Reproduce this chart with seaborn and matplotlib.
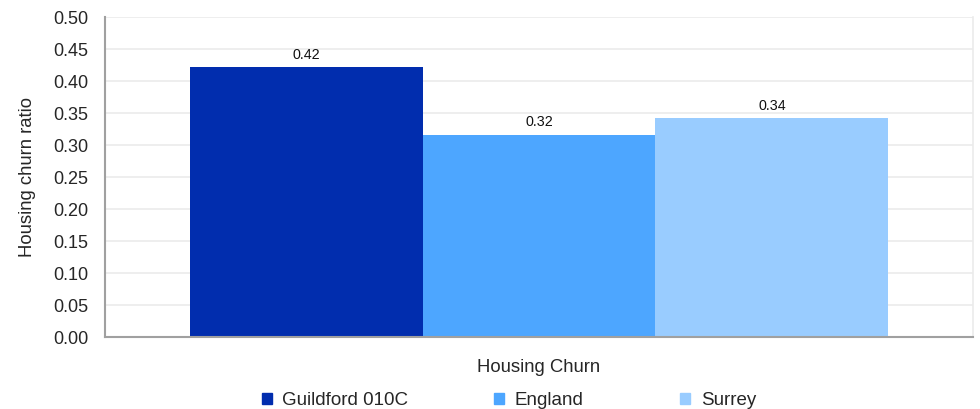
import matplotlib
matplotlib.use("Agg")
import matplotlib.pyplot as plt
import seaborn as sns
import pandas as pd

# Housing churn ratio by area
category = ["Housing Churn"]
areas = ["Guildford 010C", "England", "Surrey"]
churn_ratio = [0.422, 0.316, 0.342]
palette = ["#012DAE", "#4DA6FF", "#99CCFF"]
y_ticks = [0.00, 0.05, 0.10, 0.15, 0.20, 0.25, 0.30, 0.35, 0.40, 0.45, 0.50]

df = pd.DataFrame({
    "Category": category * len(areas),
    "Area": areas,
    "Ratio": churn_ratio,
})

sns.set_theme(style="white")
plt.rcParams["font.family"] = ["Liberation Sans", "DejaVu Sans"]

fig = plt.figure(figsize=(9.8, 4.09), dpi=100)
ax = fig.add_axes([0.107, 0.176, 0.886, 0.782])

sns.barplot(data=df, x="Category", y="Ratio", hue="Area", hue_order=areas,
            palette=palette, width=0.805, saturation=1, ax=ax, legend=False,
            linewidth=0, errorbar=None)

for container in ax.containers:
    ax.bar_label(container, fmt="%.2f", padding=4, fontsize=10.3, color="#111111")

ax.set_ylim(0, 0.5)
ax.set_xlim(-0.5, 0.5)
ax.set_yticks(y_ticks)
ax.set_yticklabels([f"{t:.2f}" for t in y_ticks], fontsize=13)
ax.yaxis.grid(True, color="#EBEBEB", linewidth=1.2)
ax.set_axisbelow(True)

ax.set_xticks([-0.5, 0.5])
ax.set_xticklabels([])
ax.tick_params(axis="x", length=6, color="#A0A0A0", width=1.2, direction="out")
ax.tick_params(axis="y", length=5, color="#A0A0A0", width=1.2, direction="out", pad=7)

for side in ["left", "bottom"]:
    ax.spines[side].set_color("#A0A0A0")
    ax.spines[side].set_linewidth(1.5)
ax.spines["top"].set_visible(False)
ax.spines["right"].set_color("#EBEBEB")
ax.spines["right"].set_linewidth(1.2)

ax.set_xlabel("Housing Churn", fontsize=13.3, labelpad=6)
ax.set_ylabel("Housing churn ratio", fontsize=13.3, labelpad=12)

# one legend entry per area, laid out along the bottom
legend_x = [0.267, 0.504, 0.694]
for name, colour, lx in zip(areas, palette, legend_x):
    fig.legend([plt.Rectangle((0, 0), 1, 1, color=colour)], [name],
               loc="center left", bbox_to_anchor=(lx, 0.020), frameon=False,
               fontsize=13.5, handlelength=0.55, handleheight=0.55,
               handletextpad=0.55, borderpad=0, borderaxespad=0)

fig.savefig("out.png", dpi=100)
